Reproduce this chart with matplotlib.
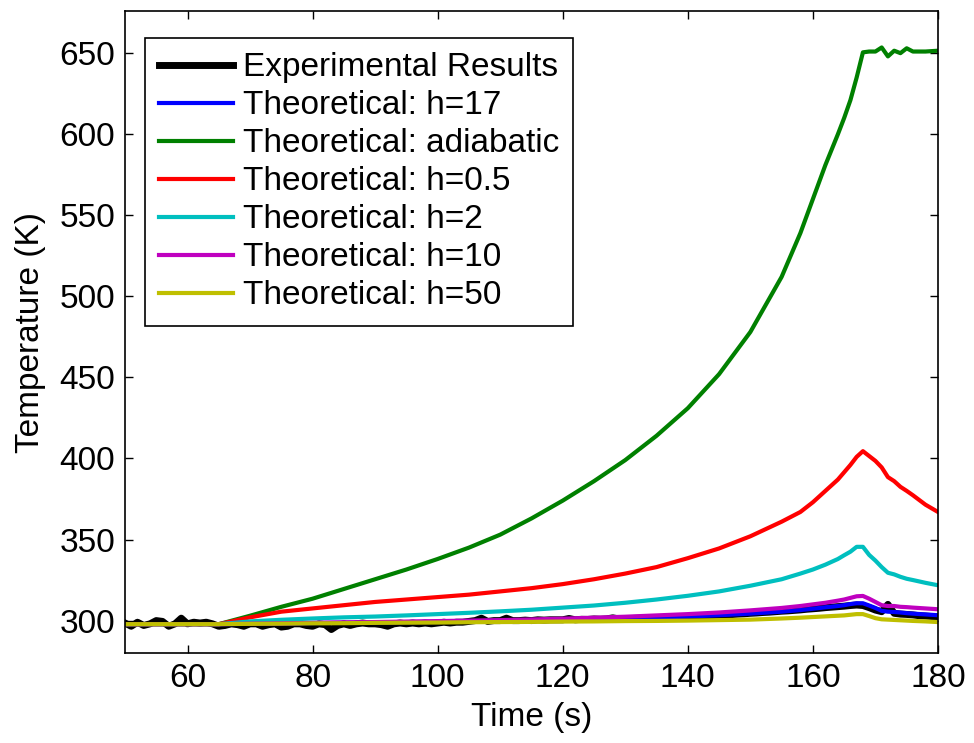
import numpy as np
import matplotlib.pyplot as plt

plt.rcParams['font.family'] = ['Liberation Sans', 'DejaVu Sans']

# model time base (s)
t_model = [50, 55, 60, 65, 70, 75, 80, 85, 90, 95, 100, 105, 110, 115, 120, 125, 130, 135,
           140, 145, 150, 155, 158, 160, 162, 164, 165, 166, 167, 168, 169, 170, 171, 172,
           173, 174, 175, 176, 178, 180]

T_adiabatic = [297.8, 297.8, 297.8, 297.8, 303, 308.5, 313.5, 319.5, 325.5, 331.5, 338, 345,
               353, 363, 374, 386, 399, 414, 431, 452, 478, 512, 539, 560, 581, 600, 610, 621,
               635, 650.5, 651, 651, 653.5, 648, 651.5, 650, 653, 651, 651, 651.5]
T_h05 = [297.8, 297.8, 297.8, 297.8, 302, 305.5, 307.5, 309.5, 311.5, 313, 314.5, 316, 318,
         320, 322.5, 325.5, 329, 333, 338.5, 344.5, 352, 361, 367, 373, 380, 387, 391.5, 396, 401,
         404.5, 401.5, 398.5, 394.5, 388.5, 386, 382.5, 380, 377.3, 371.5, 367]
T_h2 = [297.8, 297.8, 297.8, 297.8, 299.5, 300.5, 301.3, 302, 302.5, 303.2, 304, 304.8, 305.7,
        306.7, 308, 309.3, 311, 313, 315.3, 318, 321.5, 325.5, 329, 331.5, 334.5, 338, 340.3,
        342.5, 345.5, 345.5, 340.5, 337, 333, 329.5, 328.5, 327, 325.8, 325, 323.3, 321.8]
T_h10 = [297.8, 297.8, 297.8, 297.8, 298.1, 298.3, 298.6, 298.9, 299.1, 299.4, 299.7, 300,
         300.3, 300.7, 301.2, 301.8, 302.4, 303.2, 304, 305, 306.3, 307.8, 309, 310, 311,
         312.3, 313, 314, 315, 315.2, 313.5, 311.5, 309.5, 309, 309, 308.5, 308.3, 308,
         307.5, 307]
T_h17 = [297.8, 297.8, 297.8, 297.8, 298, 298.2, 298.5, 298.7, 298.9, 299.1, 299.3, 299.6,
         299.9, 300.2, 300.5, 300.9, 301.3, 301.8, 302.5, 303.3, 304.3, 305.5, 306.5, 307.3,
         308.2, 309, 309.5, 310.2, 310.7, 310.7, 309.3, 307.8, 306, 305.5, 305.3, 305, 304.6,
         304.3, 303.8, 303.3]
T_h50 = [297.8, 297.8, 297.8, 297.8, 298, 298.1, 298.3, 298.4, 298.6, 298.7, 298.8, 299,
         299.1, 299.2, 299.4, 299.5, 299.7, 299.8, 300, 300.3, 300.6, 301.3, 301.8, 302.2,
         302.6, 303, 303.2, 303.6, 304, 304, 302.8, 301.5, 300.8, 300.6, 300.4, 300.2, 300,
         299.8, 299.5, 299.1]

# experimental record, one sample per second from 50 s to 180 s
t_exp = np.arange(50, 181)
T_exp = [298.5, 296.5, 299.0, 297.0, 298.0, 300.0, 299.5, 296.5, 298.0, 301.5,
         298.0, 299.0, 298.5, 299.0, 298.0, 296.5, 297.0, 298.0, 297.5, 296.5,
         298.0, 298.0, 296.5, 297.5, 298.0, 296.0, 296.5, 298.0, 298.0, 297.0,
         296.5, 298.0, 297.5, 294.5, 297.0, 298.0, 297.0, 298.0, 298.5, 298.0,
         298.0, 297.5, 296.5, 298.0, 298.5, 298.0, 298.5, 298.0, 298.5, 298.0,
         298.5, 299.0, 298.5, 299.0, 299.0, 299.5, 300.0, 301.5, 299.5, 300.0,
         300.0, 301.5, 300.0, 300.0, 300.3, 300.0, 300.5, 300.3, 300.5, 300.5,
         300.5, 301.3, 300.5, 300.8, 300.7, 301.0, 300.8, 301.0, 301.7, 301.0,
         301.2, 301.3, 301.4, 301.5, 301.6, 301.8, 301.8, 302.0, 302.2, 302.3,
         302.5, 302.6, 302.8, 303.0, 303.1, 303.3, 303.5, 303.7, 304.0, 304.2,
         304.5, 304.7, 305.0, 305.2, 305.5, 305.8, 306.0, 306.3, 306.6, 307.0,
         307.3, 307.6, 308.0, 308.3, 308.6, 308.9, 309.3, 309.6, 309.3, 308.0,
         306.5, 305.5, 310.0, 304.5, 304.0, 303.8, 303.5, 303.0, 302.8, 302.5,
         302.3]

fig = plt.figure(figsize=(9.74, 7.43), dpi=100)
ax = fig.add_axes([0.1283, 0.1211, 0.8347, 0.8641])

ax.plot(t_exp, T_exp, color='k', lw=5, label='Experimental Results')
ax.plot(t_model, T_h17, color=(0, 0, 1), lw=3, label='Theoretical: h=17')
ax.plot(t_model, T_adiabatic, color=(0, 0.5, 0), lw=3, label='Theoretical: adiabatic')
ax.plot(t_model, T_h05, color=(1, 0, 0), lw=3, label='Theoretical: h=0.5')
ax.plot(t_model, T_h2, color=(0, 0.75, 0.75), lw=3, label='Theoretical: h=2')
ax.plot(t_model, T_h10, color=(0.75, 0, 0.75), lw=3, label='Theoretical: h=10')
ax.plot(t_model, T_h50, color=(0.75, 0.75, 0), lw=3, label='Theoretical: h=50')

ax.set_xlim(50, 180)
ax.set_ylim(280, 676)
ax.set_xticks(range(60, 181, 20))
ax.set_yticks(range(300, 651, 50))
ax.tick_params(direction='in', length=6, width=1, labelsize=24, pad=7,
               top=True, right=True)
for s in ax.spines.values():
    s.set_linewidth(1.2)

ax.set_xlabel('Time (s)', fontsize=24, labelpad=6)
ax.set_ylabel('Temperature (K)', fontsize=24, labelpad=10)

leg = ax.legend(loc='upper left', bbox_to_anchor=(0.0246, 0.958), fontsize=24,
                frameon=True, fancybox=False, edgecolor='k', framealpha=1,
                handlelength=2.2, handletextpad=0.3, labelspacing=0.21,
                borderpad=0.43, borderaxespad=0)
leg.get_frame().set_linewidth(1.2)

plt.savefig('out.png', dpi=100)
